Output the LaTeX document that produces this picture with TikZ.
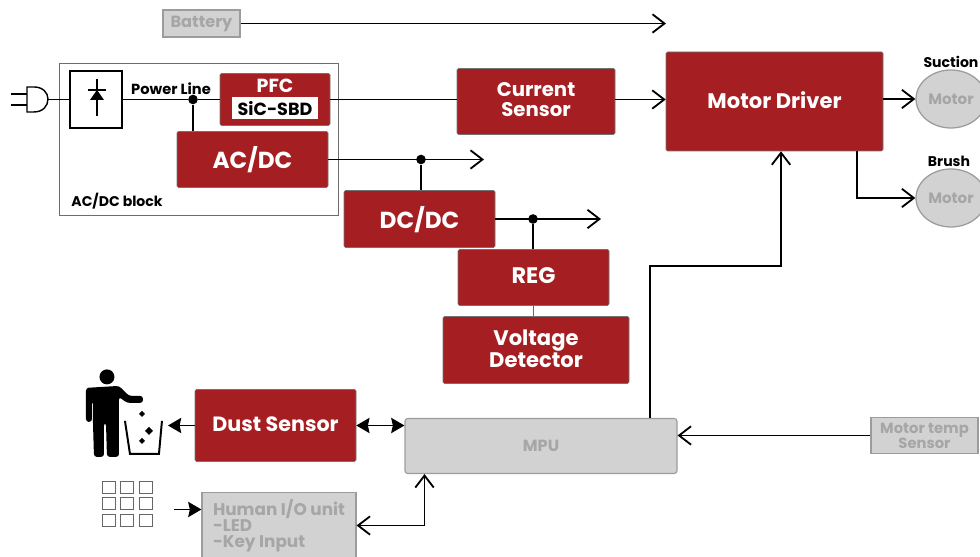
\documentclass[tikz,border=0pt]{standalone}
\usepackage{fontspec}
\setmainfont{Poppins}
\usepackage{xcolor}
\usetikzlibrary{arrows.meta,shapes.geometric,positioning,calc}

\definecolor{boxred}{HTML}{A51E22}
\definecolor{boxgray}{HTML}{D2D2D2}
\definecolor{edgegray}{HTML}{9C9C9C}
\definecolor{textgray}{HTML}{A6A6A6}

\begin{document}
\begin{tikzpicture}[
    node distance=1.5cm,
    redbox/.style={rectangle, draw=black!55, fill=boxred, text=white, rounded corners=1pt, align=center, text depth=0.08cm, font=\fontsize{15}{14.2}\selectfont\bfseries},
    graybox/.style={rectangle, draw=edgegray, fill=boxgray, text=textgray, line width=0.8pt, align=center, font=\fontsize{11.5}{11}\selectfont\bfseries},
    motor/.style={ellipse, draw=edgegray, fill=boxgray, text=textgray, line width=0.9pt, inner sep=0pt, minimum width=1.75cm, minimum height=1.45cm, font=\fontsize{10.7}{11}\selectfont\bfseries},
    caption/.style={inner sep=0pt, font=\fontsize{10}{10}\selectfont\bfseries},
    dot/.style={circle, fill=black, inner sep=0pt, minimum size=0.24cm},
    wire/.style={line width=1.3pt},
    arrow/.style={wire, -{Straight Barb[length=3mm,width=4.6mm,line width=1.3pt]}},
    both/.style={wire, {Straight Barb[length=3mm,width=4.6mm,line width=1.3pt]}-{Straight Barb[length=3mm,width=4.6mm,line width=1.3pt]}},
    solid arrow/.style={wire, -{Stealth[length=3.3mm,width=3.8mm,inset=0.4mm]}},
    solid both/.style={wire, {Stealth[length=3.3mm,width=3.8mm,inset=0.4mm]}-{Stealth[length=3.3mm,width=3.8mm,inset=0.4mm]}},
    sheet/.style={shift={(0,13.925)}, x=0.025cm, y=-0.025cm}
]
    \clip (0,0) rectangle (24.5,13.925);

    % AC/DC block frame
    \draw[edgegray!70!black, line width=0.6pt] (1.475,8.55) rectangle (8.45,12.35);

    \node[draw, line width=1pt, fill=white, minimum width=1.3cm, minimum height=1.425cm] (rect) at (2.4,11.4375) {};
    \coordinate[left of=rect, xshift=0.3cm] (plug);
    \node[dot, right of=rect, xshift=0.925cm] (j1) {};
    \node[redbox, right of=rect, xshift=2.975cm, minimum width=2.75cm, minimum height=1.3cm] (pfc) {};
    \node[caption, above of=pfc, yshift=-1.15cm, text=white, font=\fontsize{13.5}{14}\selectfont\bfseries] (pfclabel) {PFC};
    \node[below of=pfc, yshift=1.275cm, fill=white, minimum width=2.15cm, minimum height=0.55cm, inner sep=0pt, font=\fontsize{12.5}{14}\selectfont\bfseries] (sbd) {SiC-SBD};
    \node[redbox, below of=pfc, xshift=-0.5625cm, yshift=0cm, minimum width=3.775cm, minimum height=1.4cm, font=\fontsize{16.5}{18}\selectfont\bfseries] (ac) {AC/DC};
    \node[caption, above of=j1, xshift=-0.55cm, yshift=-1.225cm, font=\fontsize{10.4}{11}\selectfont\bfseries] (power) {Power Line};
    \node[caption, below of=rect, xshift=0.525cm, yshift=-1.05cm] (block) {AC/DC block};

    \node[graybox, above of=rect, xshift=2.6375cm, yshift=0.4cm, minimum width=1.925cm, minimum height=0.675cm] (bat) {Battery};
    \coordinate[right of=bat, xshift=10.1125cm] (batend);

    \node[redbox, right of=pfc, xshift=5.025cm, yshift=-0.05cm, minimum width=3.95cm, minimum height=1.65cm, font=\fontsize{14}{14.2}\selectfont\bfseries] (cur) {Current\\Sensor};
    \node[redbox, right of=cur, xshift=4.4625cm, minimum width=5.425cm, minimum height=2.475cm] (drv) {Motor Driver};
    \node[motor, right of=drv, xshift=2.9125cm, yshift=0.0625cm] (mot1) {Motor};
    \node[motor, below of=mot1, yshift=-0.975cm] (mot2) {Motor};
    \node[caption, above of=mot1, yshift=-0.575cm] (suction) {Suction};
    \node[caption, above of=mot2, xshift=-0.05cm, yshift=-0.575cm] (brush) {Brush};

    \node[dot, right of=ac, xshift=2.7125cm] (j2) {};
    \coordinate[right of=ac, xshift=4.2875cm] (acend);
    \node[redbox, below of=ac, xshift=4.175cm, yshift=0.0125cm, minimum width=3.775cm, minimum height=1.425cm, font=\fontsize{16.5}{18}\selectfont\bfseries] (dc) {DC/DC};
    \node[dot, right of=dc, xshift=1.3375cm] (j3) {};
    \coordinate[right of=dc, xshift=3.0375cm] (dcend);
    \node[redbox, below of=dc, xshift=2.85cm, yshift=0.0375cm, minimum width=3.775cm, minimum height=1.4cm, font=\fontsize{16}{18}\selectfont\bfseries] (reg) {REG};
    \node[redbox, below of=reg, xshift=0.0625cm, yshift=-0.3125cm, minimum width=4.65cm, minimum height=1.675cm] (vd) {Voltage\\Detector};

    \node[graybox, below of=vd, xshift=0.125cm, yshift=-0.9cm, rounded corners=2pt, minimum width=6.8cm, minimum height=1.375cm] (mpu) {MPU};
    \node[redbox, left of=mpu, xshift=-5.1375cm, yshift=0.5125cm, minimum width=4.025cm, minimum height=1.8cm, font=\fontsize{14.7}{16}\selectfont\bfseries] (dust) {Dust Sensor};
    \node[graybox, right of=mpu, xshift=8.0875cm, yshift=0.2625cm, minimum width=2.675cm, minimum height=0.9cm, font=\fontsize{10.5}{10.6}\selectfont\bfseries] (temp) {Motor temp\\Sensor};
    \node[graybox, below of=dust, xshift=0.0875cm, yshift=-1cm, minimum width=3.85cm, minimum height=1.65cm, align=left, font=\fontsize{12}{11.3}\selectfont\bfseries] (human) {Human I/O unit\\-LED\\-Key Input};
    \coordinate[left of=dust, xshift=-1.1875cm] (trashend);
    \coordinate[left of=human, xshift=-1.125cm, yshift=0.4cm] (keyend);

    \coordinate (mpuup) at ($(mpu.north west)!0.9!(mpu.north east)$);
    \coordinate (mpuin) at ($(mpu.south west)!0.0735!(mpu.south east)$);
    \coordinate (drvin) at ($(drv.south west)!0.53!(drv.south east)$);
    \coordinate (drvout) at ($(drv.south west)!0.88!(drv.south east)$);
    \coordinate (turn) at ($(mpuup)+(0,3.8)$);

    \draw[arrow] (bat) -- (batend);
    \draw[wire] (plug) -- (rect);
    \draw[wire] (rect) -- (j1) -- (pfc);
    \draw[wire] (j1) -- (j1 |- ac.north);
    \draw[wire] (pfc) -- (pfc -| cur.west);
    \draw[arrow] (cur.east |- pfc) -- (pfc -| drv.west);
    \draw[arrow] (drv.east |- mot1) -- (mot1);
    \draw[arrow] (drvout) |- (mot2);
    \draw[arrow] (ac) -- (acend);
    \draw[wire] (j2) -- (j2 |- dc.north);
    \draw[arrow] (dc) -- (dcend);
    \draw[wire] (j3) -- (j3 |- reg.north);
    \draw[draw=black!60, line width=0.6pt] (reg) -- (reg |- vd.north);
    \draw[arrow] (mpuup) -- (turn) -| (drvin);
    \draw[arrow] (temp) -- (temp -| mpu.east);
    \draw[solid both] (dust) -- (dust -| mpu.west);
    \draw[solid arrow] (dust) -- (trashend);
    \draw[solid arrow] (keyend) -- (keyend -| human.west);
    \draw[both] (human) -| (mpuin);

    \begin{scope}[sheet]
        % plug
        \draw[line width=1pt, fill=white] (27,87) -- (34,87) .. controls (43,87) and (48,93) .. (48,99) .. controls (48,106) and (43,112) .. (34,112) -- (27,112) -- cycle;
        \draw[line width=1pt] (11,94) -- (27,94) (11,105) -- (27,105);
        % diode
        \draw[line width=0.9pt] (97,79) -- (97,116) (88,90) -- (106,90);
        \fill (97,90) -- (104,100) -- (90,100) -- cycle;
        % person
        \fill (107,377) circle (7.5);
        \fill[rounded corners=2pt] (86,388) -- (119,386) -- (129,396) -- (143,396) -- (143,403) -- (127,403) -- (119,397) -- (119,457) -- (107,457) -- (106,423) -- (104,423) -- (104,457) -- (94,457) -- (93,423) -- (93,401) -- (92,401) -- (92,422) -- (86,422) -- cycle;
        % bin
        \draw[line width=1.4pt] (125,421) -- (130,454) -- (159,454) -- (162,421);
        \foreach \px/\py/\rr in {142/414/3, 149/431/4, 142/441/3}
            \fill (\px-\rr,\py) -- (\px,\py-\rr) -- (\px+\rr,\py) -- (\px,\py+\rr) -- cycle;
        % key pad
        \foreach \kx in {102,120,139}
            \foreach \ky in {482,498,515}
                \draw[black!60, line width=0.6pt] (\kx,\ky) rectangle (\kx+13,\ky+11.5);
    \end{scope}
\end{tikzpicture}
\end{document}
